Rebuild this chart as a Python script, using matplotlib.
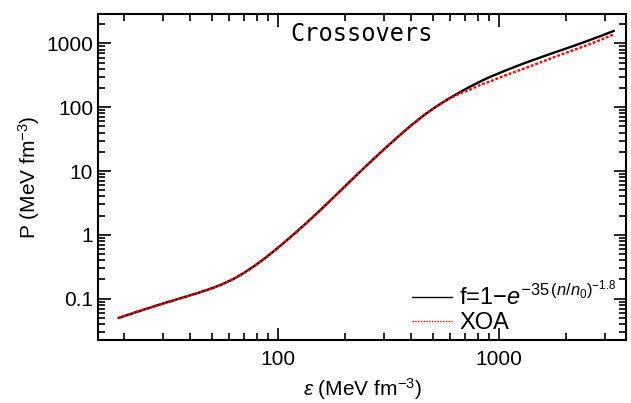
import matplotlib
matplotlib.use("Agg")
import matplotlib.pyplot as plt
from matplotlib.lines import Line2D
from matplotlib.ticker import LogLocator, FuncFormatter, NullFormatter

# energy density (MeV fm^-3) and pressure (MeV fm^-3)
eps = [19, 24, 30, 37, 44, 50, 56, 63, 70, 78, 87, 97, 108, 120, 135, 150,
       170, 195, 220, 250, 290, 340, 400, 460, 520, 590, 660, 740, 830, 906,
       1050, 1282, 1550, 1815, 2200, 2568, 2900, 3300]
p_crossover = [0.050, 0.0654, 0.0836, 0.104, 0.125, 0.145, 0.169, 0.205,
               0.253, 0.325, 0.429, 0.579, 0.791, 1.085, 1.56, 2.19, 3.31,
               5.24, 7.85, 12.0, 19.4, 32.0, 52.1, 76.5, 103, 136, 170, 211,
               258, 297, 368, 482, 611, 739, 930, 1128, 1321, 1572]
p_xoa = [0.050, 0.0654, 0.0836, 0.104, 0.125, 0.145, 0.169, 0.205,
         0.253, 0.325, 0.429, 0.579, 0.791, 1.085, 1.56, 2.19, 3.31,
         5.24, 7.85, 12.0, 19.4, 32.0, 52.1, 76.5, 103, 135, 163, 190,
         228, 252, 310, 398, 510, 630, 800, 975, 1150, 1385]

label_crossover = r"f=1$-e^{-35\,(n/n_0)^{-1.8}}$"
label_xoa = "XOA"

plt.rcParams["font.family"] = ["Liberation Sans", "DejaVu Sans"]
plt.rcParams["mathtext.fontset"] = "custom"
plt.rcParams["mathtext.rm"] = "Liberation Sans"
plt.rcParams["mathtext.it"] = "Liberation Sans:italic"
plt.rcParams["mathtext.bf"] = "Liberation Sans:bold"

fig = plt.figure(figsize=(6.31, 4.03), dpi=100)
ax = fig.add_axes([0.1553, 0.1563, 0.8367, 0.809])

ax.plot(eps, p_crossover, color="black", linewidth=1.7)
ax.plot(eps, p_xoa, color="red", linewidth=1.7, linestyle=(0, (1.2, 0.8)))

ax.set_xscale("log")
ax.set_yscale("log")
ax.set_xlim(15.3, 3750)
ax.set_ylim(0.0225, 2900)

fmt = FuncFormatter(lambda v, pos: f"{v:g}")
ax.xaxis.set_major_locator(LogLocator(base=10))
ax.yaxis.set_major_locator(LogLocator(base=10))
ax.xaxis.set_minor_locator(LogLocator(base=10, subs=range(2, 10)))
ax.yaxis.set_minor_locator(LogLocator(base=10, subs=range(2, 10)))
ax.xaxis.set_major_formatter(fmt)
ax.yaxis.set_major_formatter(fmt)
ax.xaxis.set_minor_formatter(NullFormatter())
ax.yaxis.set_minor_formatter(NullFormatter())

ax.tick_params(which="both", direction="in", top=True, right=True,
               labelsize=15, width=1.2)
ax.tick_params(which="major", length=9)
ax.tick_params(which="minor", length=5)
ax.tick_params(axis="x", pad=7)
for s in ax.spines.values():
    s.set_linewidth(1.5)

ax.set_xlabel(r"$\epsilon$ (MeV fm$^{-3}$)", fontsize=15, labelpad=5)
ax.set_ylabel(r"P (MeV fm$^{-3}$)", fontsize=15, labelpad=3)

ax.text(0.5, 0.975, "Crossovers", transform=ax.transAxes, ha="center",
        va="top", family="DejaVu Sans Mono", fontsize=17)

handles = [
    Line2D([], [], color="black", linewidth=1.0),
    Line2D([], [], color="red", linewidth=1.0, linestyle=(0, (1, 1))),
]
ax.legend(handles, [label_crossover, label_xoa], loc="lower right",
          frameon=False, fontsize=17, handlelength=1.7, handletextpad=0.3,
          labelspacing=0.05, borderaxespad=0.0, bbox_to_anchor=(1.0, -0.01))

fig.savefig("out.png", dpi=100)
